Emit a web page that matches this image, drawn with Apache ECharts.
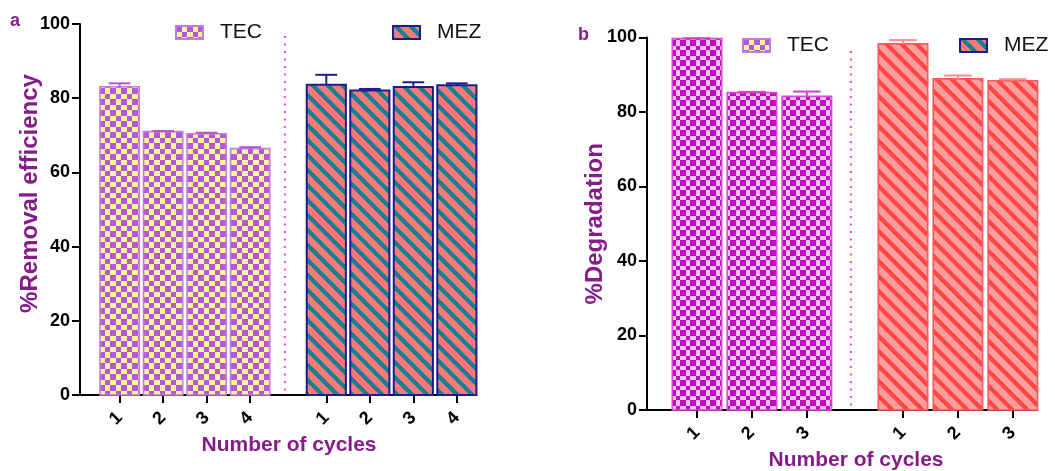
<!DOCTYPE html>
<html>
<head>
<meta charset="utf-8">
<script src="https://cdn.jsdelivr.net/npm/echarts@6/dist/echarts.min.js"></script>
<style>
  html, body { margin: 0; padding: 0; background: #ffffff; }
  #chart { width: 1055px; height: 471px; }
</style>
</head>
<body>
<div id="chart"></div>
<script>
// ---- data ----
const cyclesA = ['1', '2', '3', '4'];
const tecRemoval = [83.1, 71.0, 70.4, 66.4];
const tecRemovalSd = [0.9, 0.15, 0.3, 0.4];
const mezRemoval = [83.6, 82.1, 83.0, 83.5];
const mezRemovalSd = [2.7, 0.4, 1.3, 0.5];

const cyclesB = ['1', '2', '3'];
const tecDegradation = [99.7, 85.2, 84.2];
const tecDegradationSd = [0.1, 0.2, 1.3];
const mezDegradation = [98.3, 88.9, 88.4];
const mezDegradationSd = [1.0, 0.9, 0.4];

const yTicks = [0, 20, 40, 60, 80, 100];
const seriesNames = ['TEC', 'MEZ'];

// ---- layout helpers ----
const GROUP_GAP = 0.75;   // extra space between the two groups, in bar slots
const BAR_W = 0.9;        // bar width in slot units
const CAP_W = 0.5;        // error-bar cap width in slot units
const TITLE_PURPLE = '#861b8a';
const FONT = '"Liberation Sans", Arial, sans-serif';

function positions(n, offset) {
  return Array.from({ length: n }, (_, i) => i + 1 + offset);
}

// ---- fill patterns ----
function checkerTile(cell, c1, c2) {
  const size = Math.round(cell * 2);
  const cv = document.createElement('canvas');
  cv.width = size; cv.height = size;
  const ctx = cv.getContext('2d');
  for (let y = 0; y < size; y++) {
    for (let x = 0; x < size; x++) {
      const k = Math.floor(x / cell) + Math.floor(y / cell);
      ctx.fillStyle = k % 2 ? c2 : c1;
      ctx.fillRect(x, y, 1, 1);
    }
  }
  return { image: cv, repeat: 'repeat' };
}

function stripeTile(period, darkW, dark, light) {
  const cv = document.createElement('canvas');
  cv.width = period; cv.height = period;
  const ctx = cv.getContext('2d');
  for (let y = 0; y < period; y++) {
    for (let x = 0; x < period; x++) {
      const t = ((x - y) % period + period) % period;
      ctx.fillStyle = t < darkW ? dark : light;
      ctx.fillRect(x, y, 1, 1);
    }
  }
  return { image: cv, repeat: 'repeat' };
}

const fillTecA = checkerTile(5.5, '#b656d8', '#fdf79c');
const fillMezA = stripeTile(15, 6, '#15808e', '#f87a7a');
const fillTecB = checkerTile(5.2, '#c800c8', '#f2c6f2');
const fillMezB = stripeTile(15, 6, '#ff4646', '#ff9c9c');

// ---- renderers ----
function barRender(params, api) {
  const x = api.value(0), y = api.value(1);
  const tl = api.coord([x - BAR_W / 2, y]);
  const br = api.coord([x + BAR_W / 2, 0]);
  const st = api.style();
  return {
    type: 'rect',
    shape: { x: tl[0], y: tl[1], width: br[0] - tl[0], height: br[1] - tl[1] },
    style: st
  };
}

function errRender(color) {
  return function (params, api) {
    const x = api.value(0), y = api.value(1), sd = api.value(2);
    const base = api.coord([x, y]);
    const top = api.coord([x, y + sd]);
    const l = api.coord([x - CAP_W / 2, y + sd]);
    const r = api.coord([x + CAP_W / 2, y + sd]);
    const s = { stroke: color, lineWidth: 2 };
    return {
      type: 'group',
      children: [
        { type: 'line', shape: { x1: base[0], y1: base[1], x2: top[0], y2: top[1] }, style: s },
        { type: 'line', shape: { x1: l[0], y1: l[1], x2: r[0], y2: r[1] }, style: s }
      ]
    };
  };
}

function dividerRender(color) {
  return function (params, api) {
    const a = api.coord([api.value(0), api.value(1)]);
    const b = api.coord([api.value(0), api.value(2)]);
    return {
      type: 'line',
      shape: { x1: a[0], y1: a[1], x2: b[0], y2: b[1] },
      style: { stroke: color, lineWidth: 2.2, lineDash: [2, 5.5] }
    };
  };
}

// ---- panel builder ----
function panel(idx, cfg) {
  const n = cfg.cycles.length;
  const tecX = positions(n, 0);
  const mezX = positions(n, n + GROUP_GAP);
  const allX = tecX.concat(mezX);
  const labelOf = {};
  tecX.forEach((p, i) => { labelOf[p] = cfg.cycles[i]; });
  mezX.forEach((p, i) => { labelOf[p] = cfg.cycles[i]; });
  const minX = 1 - 0.91;
  const maxX = mezX[n - 1] + 0.44;

  const xAxis = {
    type: 'value', gridIndex: idx, min: minX, max: maxX,
    splitLine: { show: false },
    axisLine: { lineStyle: { color: '#000', width: 2 } },
    axisTick: { customValues: allX, length: 8, lineStyle: { color: '#000', width: 2 } },
    axisLabel: {
      customValues: allX, rotate: 45, margin: 20,
      formatter: v => labelOf[v] !== undefined ? labelOf[v] : '',
      color: '#000', fontFamily: FONT, fontWeight: 'bold', fontSize: 18
    },
    name: 'Number of cycles', nameLocation: 'middle', nameGap: cfg.xNameGap,
    nameMoveOverlap: false,
    nameTextStyle: {
      color: TITLE_PURPLE, fontFamily: FONT, fontWeight: 'bold', fontSize: 21,
      padding: [0, 0, 0, cfg.xNameShift * 2]
    }
  };
  const yAxis = {
    type: 'value', gridIndex: idx, min: yTicks[0], max: yTicks[yTicks.length - 1], interval: 20,
    splitLine: { show: false },
    axisLine: { show: true, lineStyle: { color: '#000', width: 2 } },
    axisTick: { show: true, length: 8, lineStyle: { color: '#000', width: 2 } },
    axisLabel: { margin: 10, color: '#000', fontFamily: FONT, fontWeight: 'bold', fontSize: 18 },
    name: cfg.yName, nameLocation: 'middle', nameGap: cfg.yNameGap,
    nameMoveOverlap: false,
    nameTextStyle: {
      color: TITLE_PURPLE, fontFamily: FONT, fontWeight: 'bold', fontSize: 24,
      padding: [0, 0, 0, cfg.yNameShift * 2]
    }
  };

  const tecData = tecX.map((p, i) => [p, cfg.tec[i], cfg.tecSd[i]]);
  const mezData = mezX.map((p, i) => [p, cfg.mez[i], cfg.mezSd[i]]);
  const divX = n + 0.8;

  const series = [
    {
      type: 'custom', name: seriesNames[0], xAxisIndex: idx, yAxisIndex: idx,
      renderItem: barRender, data: tecData, encode: { x: 0, y: 1 },
      itemStyle: { color: cfg.tecFill, borderColor: cfg.tecBorder, borderWidth: 1.6 }
    },
    {
      type: 'custom', name: seriesNames[1], xAxisIndex: idx, yAxisIndex: idx,
      renderItem: barRender, data: mezData, encode: { x: 0, y: 1 },
      itemStyle: { color: cfg.mezFill, borderColor: cfg.mezBorder, borderWidth: cfg.mezBorderW }
    },
    {
      type: 'custom', xAxisIndex: idx, yAxisIndex: idx, silent: true,
      renderItem: errRender(cfg.tecErr), data: tecData, encode: { x: 0, y: 1 }
    },
    {
      type: 'custom', xAxisIndex: idx, yAxisIndex: idx, silent: true,
      renderItem: errRender(cfg.mezErr), data: mezData, encode: { x: 0, y: 1 }
    },
    {
      type: 'custom', xAxisIndex: idx, yAxisIndex: idx, silent: true,
      renderItem: dividerRender(cfg.divColor), data: [[divX, 1.2, 97.5]], encode: { x: 0, y: [1, 2] }
    }
  ];
  return { xAxis, yAxis, series };
}

const pa = panel(0, {
  cycles: cyclesA, tec: tecRemoval, tecSd: tecRemovalSd, mez: mezRemoval, mezSd: mezRemovalSd,
  tecFill: fillTecA, mezFill: fillMezA, tecBorder: '#c57ae2', mezBorder: '#1c1c8e', mezBorderW: 2,
  tecErr: '#b458d2', mezErr: '#1c1c8e', divColor: '#ff55cc',
  yName: '%Removal efficiency', yNameGap: 38, yNameShift: 16, xNameGap: 40, xNameShift: 11
});
const pb = panel(1, {
  cycles: cyclesB, tec: tecDegradation, tecSd: tecDegradationSd, mez: mezDegradation, mezSd: mezDegradationSd,
  tecFill: fillTecB, mezFill: fillMezB, tecBorder: '#d84ad8', mezBorder: '#ff5a5a', mezBorderW: 1.6,
  tecErr: '#d040d0', mezErr: '#ff8a8a', divColor: '#ff44ee',
  yName: '%Degradation', yNameGap: 40, yNameShift: 0, xNameGap: 40, xNameShift: 14
});

function legend(name, left, top) {
  return {
    data: [name], left: left, top: top, padding: 0, orient: 'horizontal',
    icon: 'rect', itemWidth: 27, itemHeight: 13, selectedMode: false,
    textStyle: { color: '#111', fontFamily: FONT, fontSize: 21, padding: [0, 0, 0, 12] }
  };
}

const chart = echarts.init(document.getElementById('chart'), null, { renderer: 'canvas' });
chart.setOption({
  animation: false,
  backgroundColor: '#ffffff',
  grid: [
    { left: 80, top: 24, width: 396, height: 371, outerBoundsMode: 'none' },
    { left: 647, top: 37.5, width: 390, height: 372.5, outerBoundsMode: 'none' }
  ],
  xAxis: [pa.xAxis, pb.xAxis],
  yAxis: [pa.yAxis, pb.yAxis],
  legend: [
    legend('TEC', 175, 22),
    legend('MEZ', 392, 22),
    legend('TEC', 742, 35),
    legend('MEZ', 959, 35)
  ],
  graphic: [
    { type: 'text', left: 10, top: 12, style: { text: 'a', fill: TITLE_PURPLE, font: 'bold 18px ' + FONT } },
    { type: 'text', left: 578, top: 26, style: { text: 'b', fill: TITLE_PURPLE, font: 'bold 18px ' + FONT } }
  ],
  series: pa.series.concat(pb.series)
});
</script>
</body>
</html>
